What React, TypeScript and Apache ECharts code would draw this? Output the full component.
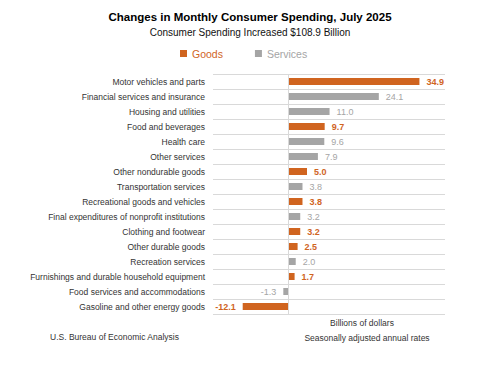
import React, { useEffect, useRef } from "react";
import * as echarts from "echarts";

const categories = [
  "Motor vehicles and parts",
  "Financial services and insurance",
  "Housing and utilities",
  "Food and beverages",
  "Health care",
  "Other services",
  "Other nondurable goods",
  "Transportation services",
  "Recreational goods and vehicles",
  "Final expenditures of nonprofit institutions",
  "Clothing and footwear",
  "Other durable goods",
  "Recreation services",
  "Furnishings and durable household equipment",
  "Food services and accommodations",
  "Gasoline and other energy goods",
];
const values = [34.9, 24.1, 11.0, 9.7, 9.6, 7.9, 5.0, 3.8, 3.8, 3.2, 3.2, 2.5, 2.0, 1.7, -1.3, -12.1];
const types = ["G", "S", "S", "G", "S", "S", "G", "S", "G", "S", "G", "G", "S", "G", "S", "G"];

const ORANGE = "#D0641F";
const GREY = "#A5A5A5";
const LABEL_FONT = "'Liberation Sans Narrow', 'Liberation Sans', sans-serif";
const TITLE_FONT = "'Liberation Sans', sans-serif";

function seriesData(kind: string) {
  return values.map((v, i) =>
    types[i] === kind
      ? { value: v, label: { position: v < 0 ? "left" : "right" } }
      : "-"
  );
}

export default function App() {
  const ref = useRef<HTMLDivElement>(null);
  useEffect(() => {
    if (!ref.current) return;
    const chart = echarts.init(ref.current, undefined, { renderer: "svg" });
    chart.setOption({
      animation: false,
      backgroundColor: "#fff",
      textStyle: { fontFamily: LABEL_FONT },
      grid: { left: 213, right: 55, top: 74, bottom: 51, containLabel: false },
      legend: {
        left: 175,
        top: 43,
        icon: "rect",
        itemWidth: 7,
        itemHeight: 7,
        itemGap: 32,
        textStyle: { fontFamily: TITLE_FONT, fontSize: 10.5 },
        data: [
          { name: "Goods", textStyle: { color: ORANGE } },
          { name: "Services", textStyle: { color: GREY } },
        ],
      },
      xAxis: {
        type: "value",
        min: -20,
        max: 41.7,
        show: false,
      },
      yAxis: {
        type: "category",
        inverse: true,
        data: categories,
        axisLine: { show: false },
        axisTick: { show: false },
        splitLine: { show: true, lineStyle: { color: "#D9D9D9", width: 1 } },
        axisLabel: { fontSize: 8.5, color: "#333", margin: 8, fontFamily: LABEL_FONT },
      },
      series: [
        {
          name: "Goods",
          type: "bar",
          stack: "a",
          barWidth: 7,
          itemStyle: { color: ORANGE },
          label: {
            show: true,
            distance: 7,
            color: ORANGE,
            fontWeight: "bold",
            fontSize: 9,
            fontFamily: TITLE_FONT,
            formatter: (p: any) => Number(p.value).toFixed(1),
          },
          data: seriesData("G"),
          markLine: {
            silent: true,
            symbol: "none",
            label: { show: false },
            lineStyle: { color: "#D9D9D9", type: "solid", width: 1 },
            data: [{ xAxis: 0 }],
          },
        },
        {
          name: "Services",
          type: "bar",
          stack: "a",
          barWidth: 7,
          itemStyle: { color: GREY },
          label: {
            show: true,
            distance: 7,
            color: GREY,
            fontSize: 9,
            fontFamily: TITLE_FONT,
            formatter: (p: any) => Number(p.value).toFixed(1),
          },
          data: seriesData("S"),
        },
      ],
      graphic: [
        {
          type: "text",
          left: "center",
          top: 11,
          style: {
            text: "Changes in Monthly Consumer Spending, July 2025",
            font: `bold 11.5px ${TITLE_FONT}`,
            fill: "#000",
          },
        },
        {
          type: "text",
          left: "center",
          top: 27,
          style: {
            text: "Consumer Spending Increased $108.9 Billion",
            font: `10px ${TITLE_FONT}`,
            fill: "#111",
          },
        },
        {
          type: "text",
          x: 50,
          y: 332,
          style: {
            text: "U.S. Bureau of Economic Analysis",
            font: `8.5px ${LABEL_FONT}`,
            fill: "#333",
          },
        },
        {
          type: "text",
          x: 362,
          y: 318,
          style: {
            text: "Billions of dollars",
            font: `8.5px ${LABEL_FONT}`,
            fill: "#333",
            textAlign: "center",
          },
        },
        {
          type: "text",
          x: 367,
          y: 333,
          style: {
            text: "Seasonally adjusted annual rates",
            font: `8.5px ${LABEL_FONT}`,
            fill: "#333",
            textAlign: "center",
          },
        },
      ],
    });
    return () => chart.dispose();
  }, []);
  return <div ref={ref} style={{ width: 500, height: 365, position: "absolute", left: 0, top: 0 }} />;
}
